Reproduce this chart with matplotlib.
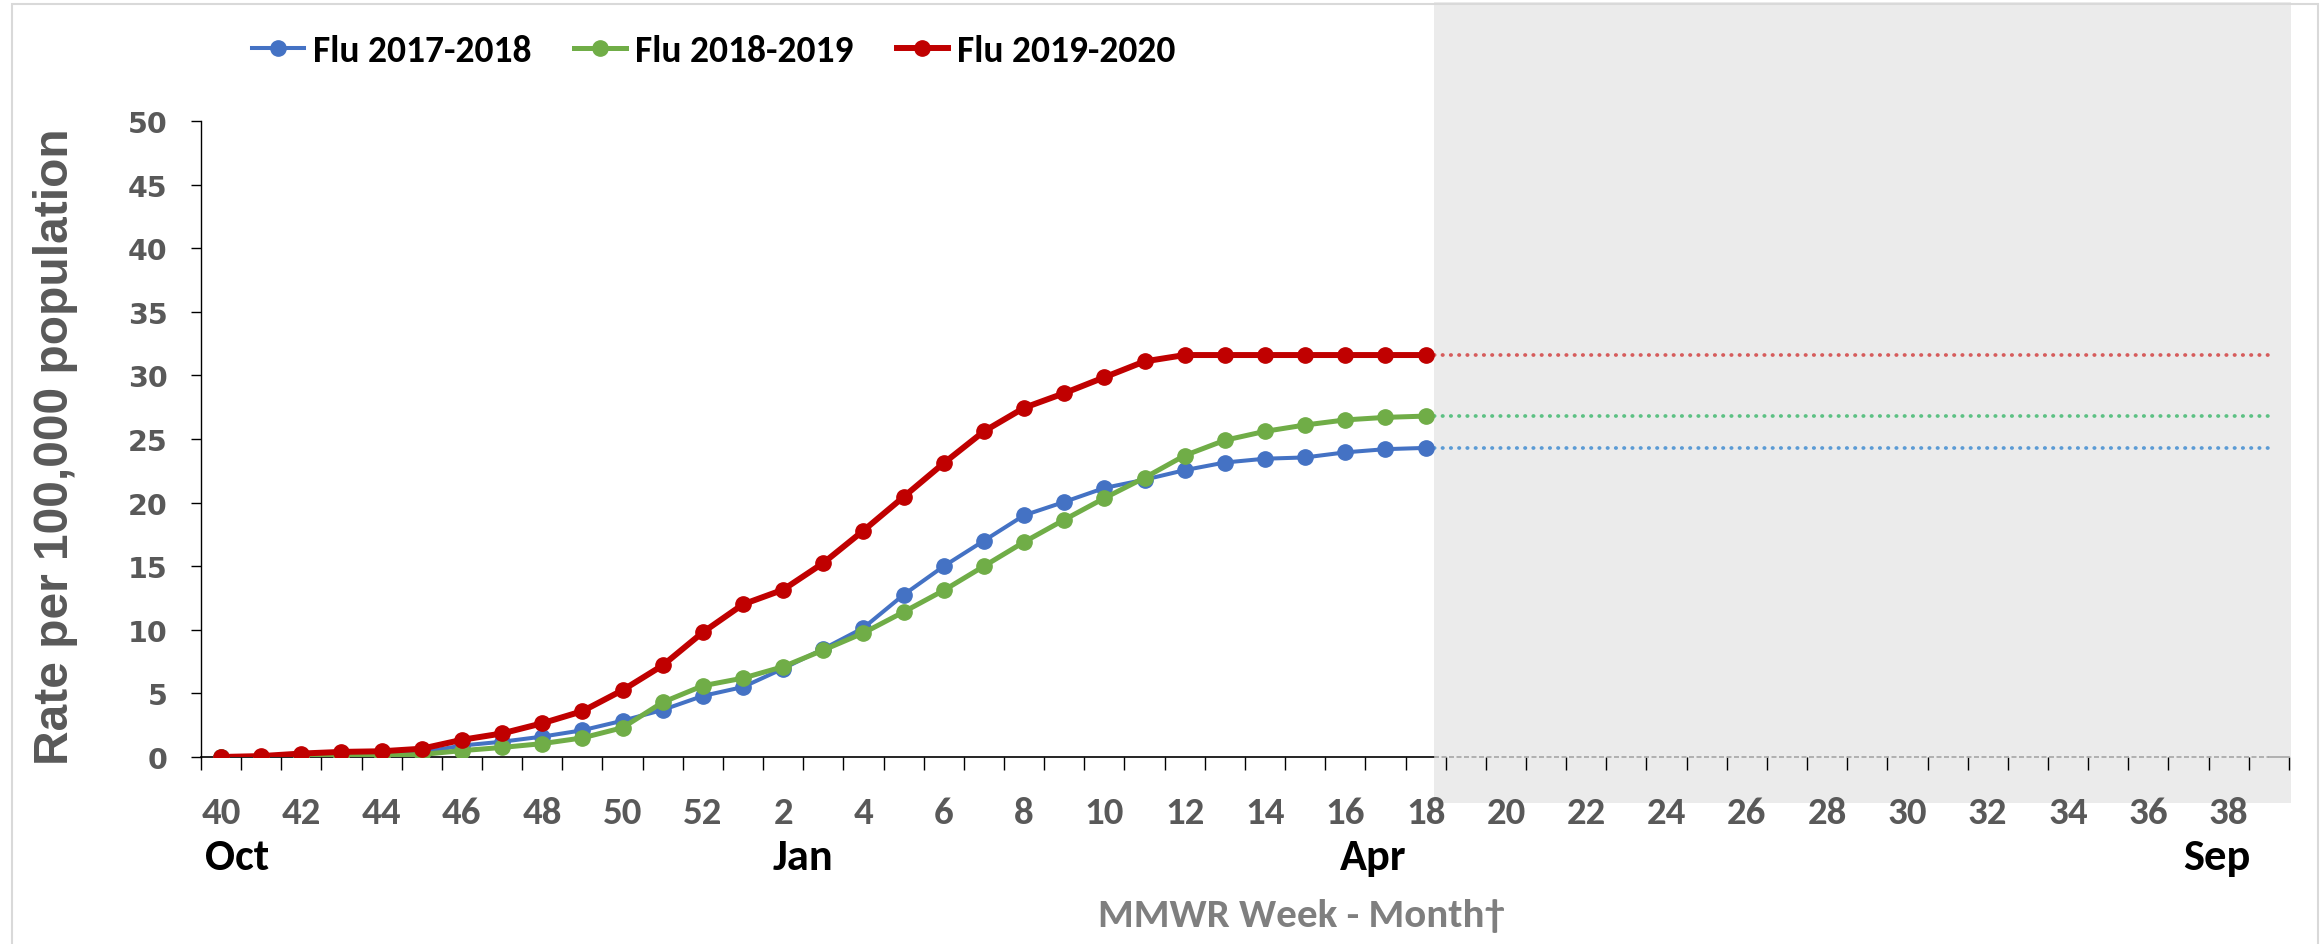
import numpy as np
import matplotlib
matplotlib.use('Agg')
import matplotlib.pyplot as plt
from matplotlib import font_manager
from matplotlib.font_manager import FontProperties
from matplotlib.patches import Rectangle
from matplotlib.transforms import blended_transform_factory

# MMWR weeks of a season, week 40 through week 39
weeks = list(range(40, 53)) + list(range(1, 40))
week_labels = [str(w) for w in weeks[::2]]

months = ['Oct', 'Jan', 'Apr', 'Sep']
month_pos = [0.4, 14.5, 28.7, 49.7]

# cumulative rate per 100,000, weeks 40 -> 18
flu_2017_2018 = [0.0, 0.03, 0.1, 0.15, 0.2, 0.35, 0.9, 1.2, 1.6, 2.1, 2.85, 3.7, 4.8,
                 5.5, 6.95, 8.5, 10.15, 12.75, 15.0, 17.0, 19.0, 20.05, 21.15, 21.8,
                 22.55, 23.15, 23.45, 23.55, 23.95, 24.2, 24.3]
flu_2018_2019 = [0.0, 0.0, 0.05, 0.08, 0.1, 0.2, 0.5, 0.75, 1.05, 1.5, 2.3, 4.3, 5.6,
                 6.2, 7.1, 8.4, 9.75, 11.4, 13.1, 15.0, 16.9, 18.65, 20.35, 21.95,
                 23.7, 24.9, 25.6, 26.1, 26.5, 26.7, 26.8]
flu_2019_2020 = [0.0, 0.07, 0.27, 0.4, 0.45, 0.65, 1.35, 1.85, 2.65, 3.6, 5.25, 7.2, 9.8,
                 12.0, 13.15, 15.25, 17.8, 20.45, 23.1, 25.6, 27.45, 28.6, 29.85, 31.1,
                 31.6, 31.6, 31.6, 31.6, 31.6, 31.6, 31.6]

series_names = ['Flu 2017-2018', 'Flu 2018-2019', 'Flu 2019-2020']
series_values = [flu_2017_2018, flu_2018_2019, flu_2019_2020]
line_colors = ['#4472C4', '#70AD47', '#C00000']
dot_colors = ['#5B9BD5', '#5CC183', '#D65C5C']
line_widths = [2.9, 3.6, 4.3]

# a Calibri-like narrow face if there is one, otherwise condensed DejaVu
names = {f.name for f in font_manager.fontManager.ttflist}
if 'Carlito' in names:
    cond = FontProperties(family='Carlito', weight='bold')
    k = 1.0
else:
    cond = FontProperties(family='DejaVu Sans', weight='bold', stretch='condensed')
    k = 0.8


def cfont(size):
    fp = cond.copy()
    fp.set_size(size * k)
    return fp


fig = plt.figure(figsize=(23.2, 9.45), dpi=100)
ax = fig.add_axes([0.0866, 0.1979, 0.9000, 0.6730])
ax.set_facecolor('none')

n_all = len(weeks)
for vals, name, color, dcol, lw, z in zip(series_values, series_names, line_colors,
                                          dot_colors, line_widths, [3, 4, 5]):
    x = np.arange(len(vals))
    ax.plot(x, vals, color=color, lw=lw, marker='o', ms=11, label=name,
            solid_joinstyle='round', zorder=z)
    ax.plot([x[-1], n_all - 1], [vals[-1], vals[-1]], color=dcol, lw=2.7,
            ls=(0, (0.1, 2.1)), dash_capstyle='round', zorder=2.8)

last = len(flu_2019_2020) - 1

# shaded block for the weeks still to come
trans = blended_transform_factory(ax.transData, fig.transFigure)
shade = Rectangle((last + 0.2, 0.149), (n_all - 0.45) - (last + 0.2), 0.997 - 0.149,
                  transform=trans, facecolor='#EBEBEB', edgecolor='none',
                  zorder=0.5, clip_on=False)
ax.add_patch(shade)

# baseline: solid over observed weeks, dashed grey over the shaded block
ax.plot([-0.5, last + 0.2], [0, 0], color='black', lw=1.2, clip_on=False, zorder=2)
ax.plot([last + 0.2, n_all - 1], [0, 0], color='#A6A6A6', lw=1.2,
        ls=(0, (3, 1.5)), clip_on=False, zorder=2)
ax.plot([n_all - 1, n_all - 0.5], [0, 0], color='#A6A6A6', lw=1.2,
        clip_on=False, zorder=2)

ax.set_xlim(-0.5, n_all - 0.5)
ax.set_ylim(0, 50)

for s in ['top', 'right', 'bottom']:
    ax.spines[s].set_visible(False)
ax.spines['left'].set_color('black')
ax.spines['left'].set_linewidth(1.0)

ax.set_yticks(np.arange(0, 51, 5))
ax.tick_params(axis='y', length=7, width=1, color='black', pad=17,
               labelcolor='#595959')
for lbl in ax.get_yticklabels():
    lbl.set_fontproperties(FontProperties(family='DejaVu Sans', weight='bold', size=20.5))

ax.set_xticks(np.arange(-0.5, n_all, 1.0))
ax.tick_params(axis='x', which='major', length=9.4, width=1, color='black',
               direction='out', labelbottom=False)
ax.set_xticks(np.arange(0, n_all, 2), minor=True)
ax.set_xticklabels(week_labels, minor=True)
ax.tick_params(axis='x', which='minor', length=0, pad=28, labelcolor='#595959')
for lbl in ax.get_xticklabels(minor=True):
    lbl.set_fontproperties(cfont(28))
for t, loc in zip(ax.xaxis.get_major_ticks(), ax.get_xticks()):
    if loc > last:
        t.tick1line.set_color('#A6A6A6')

for m, p in zip(months, month_pos):
    ax.text(p, 0.092, m, transform=trans, ha='center', va='center',
            fontproperties=cfont(32), color='black')

fig.text(0.561, 0.031, 'MMWR Week - Month\u2020', ha='center', va='center',
         fontproperties=cfont(29.5), color='#7F7F7F')

fig.text(56 / 2320, 1 - 447 / 945, 'Rate per 100,000 population', rotation=90,
         ha='center', va='center', fontsize=34.5, fontweight='bold',
         family='Liberation Sans', color='#595959')

handles, labels = ax.get_legend_handles_labels()
fig.legend(handles, labels, loc='center left', bbox_to_anchor=(0.1086, 0.945),
           ncol=3, frameon=False, prop=cfont(27), handlelength=1.38,
           handletextpad=0.24, columnspacing=1.15, borderaxespad=0, borderpad=0)

fig.patches.append(Rectangle((0.005, -0.01), 0.994, 1.0047, transform=fig.transFigure,
                             fill=False, edgecolor='#D9D9D9', lw=1.5))

fig.savefig('out.png', dpi=100)
